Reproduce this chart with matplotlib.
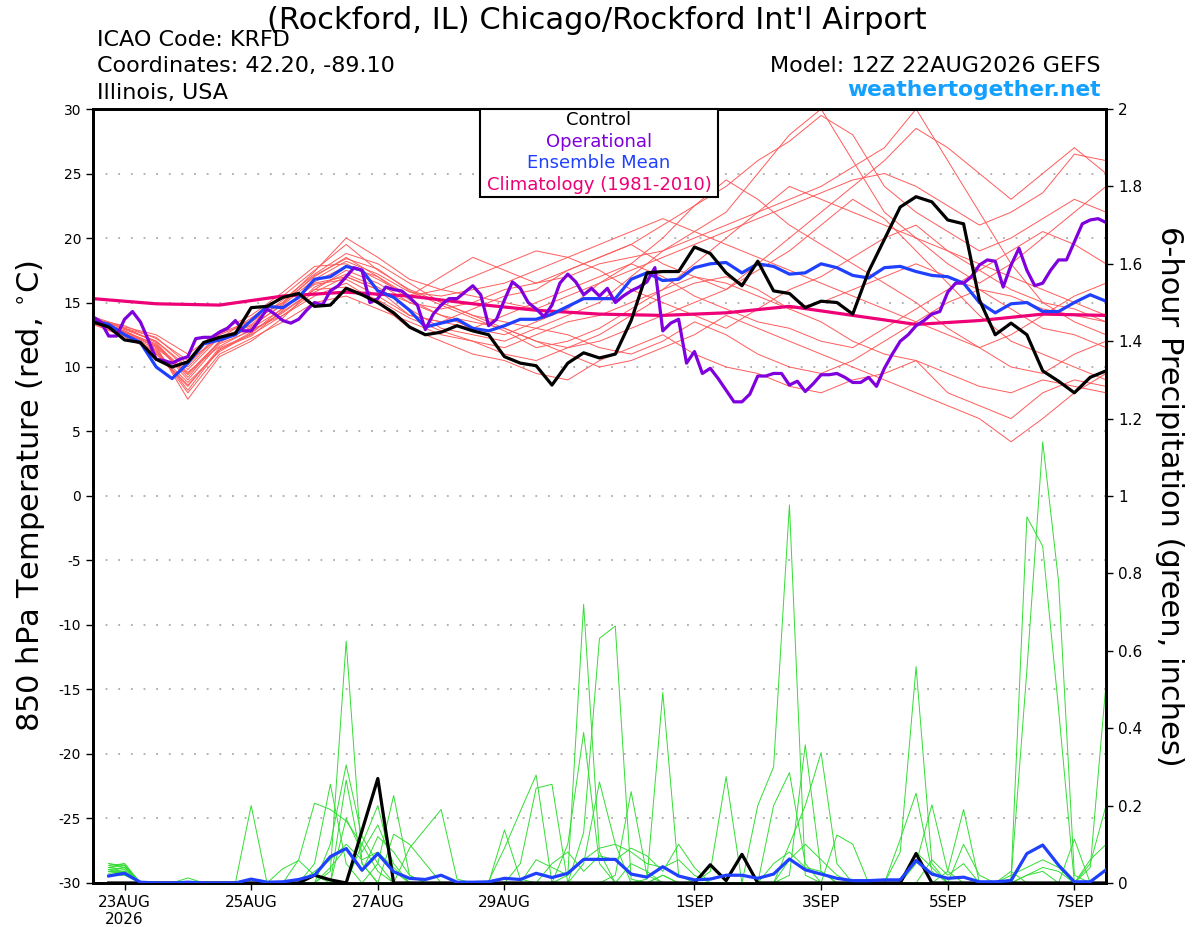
import matplotlib
matplotlib.use("Agg")
import matplotlib.pyplot as plt
import numpy as np
from matplotlib.patches import Rectangle

# hours after 12Z 22AUG2026
hours_6h = np.arange(0, 385, 6)
hours_3h = np.arange(0, 385, 3)
hours_12h = np.arange(0, 385, 12)
hours_24h = np.arange(0, 385, 24)
hours_precip = np.arange(6, 385, 6)

tick_hours = [12, 60, 108, 156, 228, 276, 324, 372]
tick_labels = ['23AUG\n2026', '25AUG', '27AUG', '29AUG', '1SEP', '3SEP', '5SEP', '7SEP']

# 850 hPa temperature (C)
control_t = [13.5, 13.1, 12.1, 11.9, 10.6, 10.0, 10.4, 11.9, 12.3, 12.6, 14.6, 14.7, 15.4, 15.7, 14.7, 14.8,
             16.1, 15.6, 15.0, 14.2, 13.1, 12.5, 12.7, 13.2, 12.8, 12.5, 10.8, 10.3, 10.1, 8.6, 10.3, 11.1,
             10.7, 11.0, 13.6, 17.3, 17.4, 17.4, 19.3, 18.8, 17.3, 16.3, 18.2, 15.9, 15.7, 14.6, 15.1, 15.0,
             14.1, 17.4, 19.9, 22.4, 23.2, 22.8, 21.4, 21.1, 15.2, 12.5, 13.4, 12.5, 9.7, 8.9, 8.0, 9.2, 9.7]

mean_t = [13.6, 13.3, 12.5, 11.9, 10.0, 9.1, 10.3, 11.8, 12.1, 12.5, 13.6, 14.7, 14.6, 15.4, 16.8, 17.0,
          17.8, 17.5, 15.9, 15.4, 14.4, 13.1, 13.4, 13.7, 13.0, 12.8, 13.2, 13.7, 13.7, 14.1, 14.7, 15.3,
          15.3, 15.3, 16.8, 17.3, 16.7, 16.8, 17.7, 18.0, 18.1, 17.3, 18.0, 17.8, 17.2, 17.3, 18.0, 17.7,
          17.1, 16.9, 17.7, 17.8, 17.4, 17.1, 17.0, 16.5, 15.0, 14.2, 14.9, 15.0, 14.3, 14.3, 15.0, 15.6, 15.1]

oper_t = [13.9, 13.5, 12.4, 12.4, 13.7, 14.3, 13.5, 12.1, 10.6, 10.5, 10.3, 10.6, 10.8, 12.2, 12.3, 12.3,
          12.7, 13.0, 13.6, 12.8, 12.8, 13.6, 14.5, 14.1, 13.6, 13.4, 13.7, 14.4, 15.0, 14.8, 15.9, 16.3,
          17.0, 17.7, 17.5, 15.0, 15.3, 16.2, 16.0, 15.9, 15.4, 14.8, 12.9, 14.1,
          14.8, 15.3, 15.3, 15.8, 16.3, 15.6, 13.2, 13.7, 15.2, 16.6, 16.1, 15.0, 14.5, 13.9, 14.8, 16.5,
          17.2, 16.6, 15.6, 16.1, 15.5, 16.1, 15.0, 15.5, 15.9, 16.2, 16.6, 17.7, 12.8, 13.4, 13.7, 10.3,
          11.2, 9.5, 9.9, 9.1, 8.2, 7.3, 7.3, 7.9, 9.3,
          9.3, 9.5, 9.5, 8.6, 8.9, 8.1, 8.7, 9.4, 9.4, 9.5, 9.2, 8.8, 8.8, 9.2, 8.5, 9.9,
          11.0, 12.0, 12.5, 13.2, 13.6, 14.1, 14.3, 15.8, 16.5, 16.5, 17.0, 17.9, 18.3, 18.2, 16.2, 17.9,
          19.2, 17.5, 16.3, 16.5, 17.5, 18.3, 18.3, 19.7, 21.1, 21.4, 21.5, 21.2]

clim_t = [15.3, 14.9, 14.8, 15.5, 15.8, 15.5, 14.9, 14.4, 14.1, 14.0, 14.2, 14.7, 14.0, 13.3, 13.6, 14.1, 14.0]

# ensemble members, 12-hourly
members_t = [
    [13.6, 12.8, 11.5, 9.5, 12.0, 13.0, 14.5, 16.5, 17.0, 16.0, 14.0, 13.5, 14.5, 15.5, 16.0, 17.5, 18.5,
     19.5, 21.0, 22.5, 24.0, 26.0, 27.5, 29.5, 28.0, 24.0, 22.0, 20.5, 19.0, 20.0, 21.5, 23.0, 22.0],
    [13.4, 12.5, 11.0, 8.5, 11.5, 12.5, 14.0, 15.5, 16.5, 15.0, 13.0, 12.0, 11.0, 10.5, 9.5, 9.0, 10.5,
     11.5, 12.5, 11.0, 10.0, 9.5, 8.5, 8.0, 9.0, 9.5, 10.5, 8.0, 7.0, 6.0, 8.0, 9.0, 8.5],
    [13.8, 13.0, 12.0, 10.0, 12.5, 13.5, 15.0, 17.0, 18.5, 17.0, 15.5, 16.0, 17.0, 18.0, 19.0, 18.5, 17.5,
     16.0, 15.0, 14.0, 13.0, 14.5, 16.0, 17.0, 18.5, 20.0, 21.0, 19.0, 17.5, 16.0, 15.0, 14.5, 13.5],
    [13.5, 12.7, 11.8, 9.0, 11.8, 12.8, 14.2, 16.0, 17.5, 16.5, 15.0, 14.0, 13.0, 12.5, 13.5, 14.5, 16.5,
     18.0, 20.0, 22.5, 24.5, 23.0, 21.0, 19.5, 18.0, 16.5, 15.0, 13.0, 11.5, 10.0, 9.5, 11.0, 12.0],
    [13.7, 13.2, 12.2, 10.5, 12.2, 13.8, 15.5, 17.5, 19.5, 17.5, 16.0, 15.0, 14.0, 13.5, 13.0, 14.0, 15.0,
     17.0, 19.0, 20.5, 22.0, 25.0, 28.0, 30.0, 26.0, 22.0, 20.0, 18.0, 16.5, 18.0, 20.0, 22.0, 24.0],
    [13.3, 12.4, 11.3, 8.0, 11.0, 12.2, 13.5, 15.0, 15.5, 14.5, 13.5, 12.5, 12.0, 11.0, 10.5, 11.5, 12.5,
     14.0, 15.5, 16.5, 17.0, 16.0, 14.5, 13.5, 12.0, 11.0, 10.5, 9.5, 8.5, 8.0, 9.0, 8.5, 8.0],
    [13.9, 13.1, 12.5, 11.0, 12.8, 14.0, 15.8, 17.8, 18.0, 16.8, 15.5, 17.0, 18.5, 17.5, 16.5, 17.5, 18.5,
     19.5, 18.0, 17.0, 16.0, 18.0, 20.0, 22.0, 24.0, 26.0, 28.5, 27.0, 25.0, 23.0, 25.0, 27.0, 25.0],
    [13.5, 12.6, 11.6, 7.5, 10.8, 12.0, 13.8, 16.2, 17.2, 16.2, 14.5, 13.0, 12.5, 12.0, 13.0, 12.5, 11.5,
     11.0, 12.0, 13.5, 12.5, 11.0, 10.0, 9.5, 10.5, 12.0, 13.5, 15.0, 16.0, 14.5, 13.0, 12.5, 11.5],
    [13.6, 12.9, 12.0, 9.8, 12.3, 13.2, 14.8, 16.8, 18.2, 17.2, 15.8, 15.5, 16.0, 16.5, 17.5, 18.5, 19.5,
     20.5, 21.5, 20.5, 19.5, 18.5, 17.5, 16.5, 15.5, 14.5, 13.5, 12.5, 11.5, 12.5, 14.0, 15.5, 16.5],
    [13.4, 12.3, 11.2, 8.8, 11.2, 12.6, 14.6, 16.4, 16.8, 15.5, 14.0, 13.5, 13.0, 14.0, 15.0, 16.0, 17.0,
     18.0, 17.0, 15.5, 14.5, 13.5, 13.0, 12.0, 11.5, 13.0, 14.5, 16.0, 17.5, 19.0, 20.5, 19.5, 18.0],
    [13.7, 13.0, 11.9, 9.2, 12.0, 13.3, 15.2, 17.2, 18.8, 18.0, 16.5, 15.0, 14.0, 13.0, 12.0, 11.5, 12.0,
     13.0, 14.0, 15.0, 16.0, 17.5, 19.0, 21.0, 23.0, 21.5, 19.0, 16.5, 14.0, 12.0, 11.0, 10.0, 9.0],
    [13.5, 12.8, 11.7, 9.6, 11.6, 12.9, 14.0, 15.8, 17.0, 16.0, 15.0, 14.5, 15.0, 16.0, 16.5, 17.0, 18.0,
     18.5, 19.0, 20.0, 21.0, 22.0, 23.0, 24.0, 25.5, 27.0, 30.0, 26.0, 22.0, 18.0, 15.0, 13.5, 12.5],
    [13.6, 12.6, 11.4, 8.2, 11.4, 12.4, 14.4, 16.6, 17.8, 17.0, 15.2, 14.0, 13.5, 13.0, 12.0, 11.0, 10.0,
     10.5, 11.5, 12.5, 14.0, 13.0, 12.0, 11.0, 10.0, 9.0, 8.0, 7.0, 6.0, 4.2, 6.0, 8.0, 9.5],
    [13.8, 13.0, 12.3, 10.2, 12.6, 13.6, 15.0, 17.4, 20.0, 18.5, 16.8, 16.0, 15.5, 15.0, 14.5, 15.5, 16.5,
     17.5, 18.5, 19.5, 20.5, 21.5, 22.5, 23.5, 24.5, 25.0, 24.0, 22.5, 21.0, 22.0, 23.5, 26.5, 26.0],
    [13.4, 12.5, 11.1, 8.6, 11.3, 12.7, 14.3, 16.0, 16.2, 15.2, 13.8, 12.8, 12.0, 11.5, 12.5, 13.5, 14.0,
     15.0, 16.0, 17.0, 16.5, 15.5, 14.5, 15.0, 16.0, 17.0, 18.0, 17.0, 16.0, 15.5, 14.5, 14.0, 13.5],
    [13.6, 12.7, 11.6, 9.4, 11.9, 13.1, 14.9, 17.1, 18.4, 17.6, 15.9, 14.8, 13.8, 12.8, 11.5, 12.0, 13.0,
     14.5, 16.0, 18.0, 20.0, 22.0, 24.0, 23.0, 22.0, 21.0, 20.0, 19.0, 18.0, 17.0, 16.0, 15.0, 14.0],
]

# 6-hour precipitation (inches)
control_p = [0, 0, 0, 0, 0, 0, 0, 0, 0, 0, 0, 0, 0, .02, .008, 0,
             .135, .27, 0, 0, 0, 0, 0, 0, 0, 0, 0, 0, 0, 0, 0, 0,
             0, 0, 0, 0, 0, 0, .047, .006, .074, 0, 0, 0, 0, 0, 0, 0,
             0, 0, 0, .076, 0, 0, 0, 0, 0, 0, 0, 0, 0, 0, 0, 0]

mean_p = [.018, .025, .002, 0, 0, .002, 0, 0, 0, .01, .002, .003, .009, .02, .068, .089,
          .033, .076, .029, .012, .009, .02, .002, .002, .003, .012, .009, .025, .014, .025, .061, .061,
          .061, .023, .015, .042, .018, .008, .01, .02, .02, .012, .023, .062, .034, .023, .012, .006,
          .006, .008, .008, .058, .023, .012, .015, .003, .003, .006, .076, .098, .046, .003, .003, .034]

members_p = [
    [.05, .045, 0, 0, 0, 0, 0, 0, 0, 0, 0, 0, 0, 0, .03, .625,
     .05, 0, 0, 0, 0, 0, 0, 0, 0, 0, 0, 0, 0, .02, .72, .08,
     0, 0, 0, 0, 0, 0, 0, 0, 0, .2, .30, .977, .02, 0, 0, 0,
     0, 0, 0, 0, 0, 0, 0, 0, 0, 0, .02, .03, 0, 0, 0, 0],
    [.04, .05, 0, 0, 0, 0, 0, 0, 0, .2, 0, 0, 0, 0, 0, 0,
     0, 0, 0, 0, 0, 0, 0, 0, 0, 0, 0, 0, 0, 0, .13, .632,
     .664, .01, 0, 0, 0, 0, 0, 0, 0, 0, 0, 0, 0, 0, 0, 0,
     0, 0, 0, 0, 0, 0, 0, 0, 0, .01, .55, 1.14, .78, .02, 0, 0],
    [.035, .03, 0, 0, 0, 0, 0, 0, 0, 0, 0, .037, .058, .02, 0, 0,
     0, 0, 0, 0, 0, 0, 0, 0, 0, .137, .01, 0, 0, 0, 0, 0,
     0, 0, 0, .02, 0, 0, 0, 0, 0, 0, 0, 0, 0, 0, 0, 0,
     0, 0, 0, 0, 0, 0, 0, 0, 0, .01, .946, .87, .45, 0, 0, 0],
    [.045, .05, 0, 0, 0, 0, 0, 0, 0, 0, 0, 0, .06, .206, .19, .16,
     .1, .03, 0, 0, 0, 0, 0, 0, 0, 0, 0, 0, 0, 0, 0, 0,
     .02, .236, .02, 0, 0, 0, 0, 0, 0, 0, 0, 0, 0, 0, 0, 0,
     0, 0, 0, 0, 0, 0, 0, 0, 0, 0, 0, 0, 0, 0, .04, .516],
    [.03, .04, 0, 0, 0, 0, 0, 0, 0, 0, 0, 0, 0, .05, .255, .05,
     0, 0, 0, 0, 0, 0, 0, 0, 0, 0, 0, 0, 0, 0, 0, 0,
     0, 0, .01, .492, .02, 0, 0, 0, 0, 0, 0, 0, 0, 0, 0, 0,
     0, 0, .08, .559, .05, 0, 0, 0, 0, 0, 0, 0, 0, 0, 0, 0],
    [.05, .04, 0, 0, 0, 0, 0, 0, 0, 0, 0, 0, 0, 0, .1, .305,
     .12, .05, 0, 0, 0, 0, 0, 0, .005, .09, .185, .279, 0, 0, 0, 0,
     0, 0, 0, 0, 0, 0, 0, 0, 0, 0, .2, .285, .05, 0, 0, 0,
     0, 0, 0, 0, 0, 0, 0, 0, 0, 0, 0, 0, 0, 0, 0, 0],
    [.04, .035, 0, 0, 0, 0, 0, 0, 0, 0, 0, 0, 0, 0, 0, .266,
     .05, 0, 0, 0, 0, 0, 0, 0, 0, 0, .05, .245, .255, 0, 0, 0,
     0, 0, 0, 0, 0, 0, 0, 0, 0, 0, 0, .02, .357, .03, 0, 0,
     0, 0, 0, 0, 0, 0, 0, 0, 0, 0, 0, 0, 0, 0, 0, 0],
    [.03, .03, 0, 0, 0, .013, 0, 0, 0, 0, 0, 0, 0, 0, 0, 0,
     .1, .2, .03, 0, 0, 0, 0, 0, 0, 0, 0, 0, 0, 0, 0, 0,
     0, 0, 0, 0, 0, 0, .03, .275, 0, 0, 0, .1, .2, .337, .05, 0,
     0, 0, 0, 0, 0, 0, 0, 0, 0, 0, 0, 0, 0, .113, 0, 0],
    [.04, .045, 0, 0, 0, 0, 0, 0, 0, 0, 0, 0, 0, 0, 0, .167,
     .08, .15, .05, 0, 0, 0, 0, 0, 0, 0, 0, 0, 0, .1, .389, .05,
     0, 0, 0, 0, 0, 0, 0, 0, 0, 0, 0, 0, 0, 0, .124, .10,
     0, 0, 0, 0, 0, 0, 0, 0, 0, 0, 0, 0, 0, 0, 0, 0],
    [.035, .04, 0, 0, 0, 0, 0, 0, 0, 0, 0, 0, 0, 0, 0, 0,
     0, .05, .226, .02, 0, 0, 0, 0, 0, 0, 0, 0, 0, 0, .05, .261,
     .1, 0, 0, 0, 0, 0, 0, 0, 0, 0, 0, 0, 0, 0, 0, 0,
     0, 0, 0, .05, .202, .03, 0, 0, 0, 0, 0, 0, 0, 0, 0, 0],
    [.03, .025, 0, 0, 0, 0, 0, 0, 0, 0, 0, 0, 0, 0, 0, 0,
     0, 0, .126, .1, .05, 0, 0, 0, 0, 0, 0, 0, 0, 0, 0, 0,
     0, 0, 0, .02, 0, 0, 0, 0, 0, 0, 0, 0, 0, 0, 0, 0,
     0, 0, .113, .232, .03, 0, 0, 0, 0, 0, 0, 0, 0, 0, .05, .2],
    [.02, .03, 0, 0, 0, 0, 0, 0, 0, 0, 0, 0, 0, 0, 0, 0,
     0, 0, 0, .09, .14, .19, .01, 0, 0, 0, 0, 0, 0, 0, 0, 0,
     0, .05, .03, 0, 0, 0, 0, 0, 0, 0, 0, 0, 0, 0, 0, 0,
     0, 0, 0, 0, 0, .03, .19, 0, 0, .03, 0, 0, 0, 0, 0, 0],
    [.02, .02, 0, 0, 0, 0, 0, 0, 0, 0, 0, 0, 0, .03, .06, .1,
     .06, .08, .04, 0, 0, 0, 0, 0, 0, 0, 0, .06, .04, .02, .06, .09,
     .1, .08, .05, .04, .06, .02, 0, 0, 0, 0, .05, .08, .04, .03, 0, 0,
     0, 0, 0, .08, .04, 0, .1, .02, 0, 0, .02, .04, .03, 0, 0, 0],
    [.025, .03, 0, 0, 0, 0, 0, 0, 0, 0, 0, 0, 0, 0, .04, .09,
     .03, .12, .08, .02, 0, 0, 0, 0, 0, 0, 0, 0, .05, .08, .03, .07,
     .06, .09, .07, .03, .1, .04, 0, 0, 0, 0, 0, .06, .1, .06, .02, 0,
     0, 0, 0, 0, .06, .02, .05, 0, 0, .02, .04, .06, .04, 0, .06, .1],
]

plt.rcParams['font.family'] = 'DejaVu Sans'
plt.rcParams['axes.unicode_minus'] = False

fig = plt.figure(figsize=(12, 9.27), dpi=100)
ax = fig.add_axes([0.0774, 0.0475, 0.8443, 0.8349])
ax2 = ax.twinx()

for m in members_t:
    ax.plot(hours_12h, m, color='#ff5a5a', lw=0.7, zorder=2)
ax.plot(hours_24h, clim_t, color='#ee0077', lw=2.3, zorder=3)
ax.plot(hours_6h, mean_t, color='#2040ff', lw=2.3, zorder=4)
ax.plot(hours_3h, oper_t, color='#7f00dd', lw=2.3, zorder=5)
ax.plot(hours_6h, control_t, color='black', lw=2.3, zorder=6)

for m in members_p:
    ax2.plot(hours_precip, m, color='#33dd33', lw=0.7, zorder=2)
ax2.plot(hours_precip, control_p, color='black', lw=2.3, zorder=3)
ax2.plot(hours_precip, mean_p, color='#2040ff', lw=2.3, zorder=4)

ax.set_xlim(0, 384)
ax.set_ylim(-30, 30)
ax2.set_ylim(0, 2)
ax.set_yticks(np.arange(-30, 31, 5))
ax2.set_yticks(np.arange(0, 2.01, 0.2))
ax2.set_yticklabels(['%g' % round(v, 1) for v in np.arange(0, 2.01, 0.2)])
ax.set_xticks(tick_hours)
ax.set_xticklabels(tick_labels)

ax.yaxis.grid(True, linestyle=(0, (1, 6)), color='#aaaaaa', lw=1.3)
ax.tick_params(axis='y', labelsize=10, length=5, width=1)
ax2.tick_params(axis='y', labelsize=11, length=5, width=1)
ax.tick_params(axis='x', labelsize=11, length=5, width=1)
for a in (ax, ax2):
    for s in a.spines.values():
        s.set_linewidth(2)

ax.set_ylabel('850 hPa Temperature (red, $^{\\circ}$C)', fontsize=22, labelpad=8)
ax2.set_ylabel('6-hour Precipitation (green, inches)', fontsize=22, rotation=270, labelpad=30)

fig.text(0.4975, 0.978, "(Rockford, IL) Chicago/Rockford Int'l Airport", fontsize=22, ha='center', va='center')
fig.text(0.081, 0.957, 'ICAO Code: KRFD', fontsize=16, ha='left', va='center')
fig.text(0.081, 0.929, 'Coordinates: 42.20, -89.10', fontsize=16, ha='left', va='center')
fig.text(0.081, 0.900, 'Illinois, USA', fontsize=16, ha='left', va='center')
fig.text(0.9175, 0.929, 'Model: 12Z 22AUG2026 GEFS', fontsize=16, ha='right', va='center')
fig.text(0.9175, 0.903, 'weathertogether.net', fontsize=15.7, ha='right', va='center',
         color='#14a0ff', fontweight='bold')

fig.patches.append(Rectangle((0.4, 0.7875), 0.198, 0.0949, transform=fig.transFigure,
                             facecolor='white', edgecolor='black', lw=1.5, zorder=10))
legend_items = [('Control', 'black'), ('Operational', '#7f00dd'),
                ('Ensemble Mean', '#2040ff'), ('Climatology (1981-2010)', '#ee0077')]
for k, (txt, col) in enumerate(legend_items):
    fig.text(0.4992, 0.8706 - k * 0.0234, txt, fontsize=13, color=col, ha='center', va='center', zorder=11)

fig.savefig('out.png', dpi=100)
